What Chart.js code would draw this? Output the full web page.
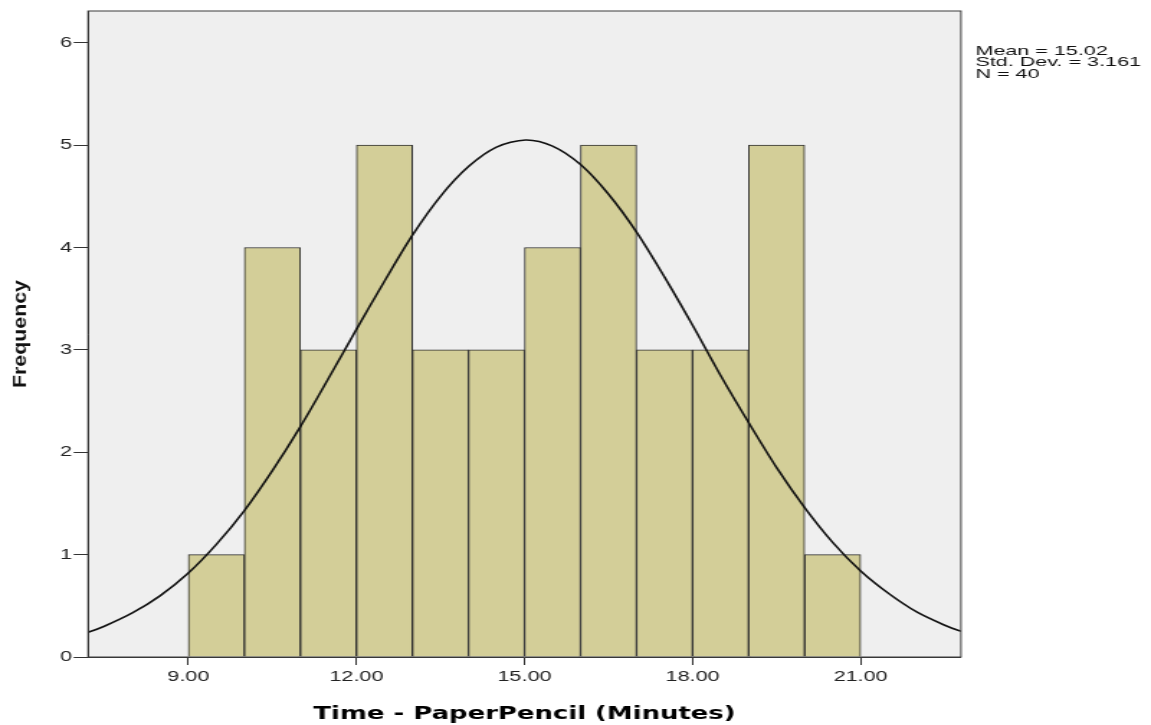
<!DOCTYPE html>
<html>
<head>
<meta charset="utf-8">
<title>Time - PaperPencil histogram</title>
<script src="https://cdn.jsdelivr.net/npm/chart.js@4.4.1/dist/chart.umd.min.js"></script>
<style>
  html, body { margin: 0; padding: 0; background: #fff; }
</style>
</head>
<body>
<!-- the canvas is drawn narrower and stretched sideways, like the original picture -->
<canvas id="histChart" width="800" height="725" style="width:1151px;height:725px;display:block"></canvas>
<script>
// 1-minute bins
const binStarts = [9, 10, 11, 12, 13, 14, 15, 16, 17, 18, 19, 20];
const frequencies = [1, 4, 3, 5, 3, 3, 4, 5, 3, 3, 5, 1];

// normal curve
const curveX = [7.21, 7.5, 8, 8.5, 9, 9.5, 10, 10.5, 11, 11.5, 12, 12.5, 13, 13.5, 14, 14.5, 15.02,
                15.5, 16, 16.5, 17, 17.5, 18, 18.5, 19, 19.5, 20, 20.5, 21, 21.5, 22, 22.5, 22.79];
const curveY = [0.24, 0.3, 0.43, 0.6, 0.82, 1.1, 1.43, 1.82, 2.25, 2.72, 3.2, 3.67, 4.12, 4.5, 4.79, 4.98, 5.05,
                4.99, 4.81, 4.52, 4.15, 3.71, 3.24, 2.75, 2.29, 1.85, 1.46, 1.12, 0.84, 0.62, 0.44, 0.31, 0.25];

const xTicks = [9, 12, 15, 18, 21];
const yTicks = [0, 1, 2, 3, 4, 5, 6];

const statLines = ["Mean = 15.02", "Std. Dev. = 3.161", "N = 40"];
const xTitle = "Time - PaperPencil (Minutes)";
const yTitle = "Frequency";

const bars = binStarts.map((s, i) => ({ x: s + 0.5, y: frequencies[i] }));
const curve = curveX.map((x, i) => ({ x: x, y: curveY[i] }));

const axisColor = "#333";
const plainFont = '"Liberation Sans", Arial, sans-serif';

const frame = {
  id: "frame",
  beforeDraw(chart) {
    const { ctx, chartArea: a } = chart;
    ctx.save();
    ctx.fillStyle = "#efefef";
    ctx.fillRect(a.left, a.top, a.right - a.left, a.bottom - a.top);
    ctx.restore();
  },
  afterDraw(chart) {
    const { ctx, chartArea: a } = chart;
    ctx.save();
    ctx.strokeStyle = "#3c3c3c";
    ctx.lineWidth = 1;
    ctx.strokeRect(a.left, a.top, a.right - a.left, a.bottom - a.top);

    // stats box, lines set tight like the original
    ctx.fillStyle = "#111";
    ctx.font = "15px " + plainFont;
    ctx.textBaseline = "alphabetic";
    statLines.forEach((t, i) => {
      ctx.save();
      ctx.translate(a.right + 10, 54.5 + i * 11.5);
      ctx.scale(1, 0.86);
      ctx.fillText(t, 0, 0);
      ctx.restore();
    });

    // y title, squeezed to look like the stretched original
    ctx.font = "bold 20px " + plainFont;
    const w = ctx.measureText(yTitle).width;
    ctx.translate(18.1, (a.top + a.bottom) / 2);
    ctx.rotate(-Math.PI / 2);
    ctx.scale(108 / w, 0.63);
    ctx.textAlign = "center";
    ctx.fillText(yTitle, 0, 0);
    ctx.restore();
  }
};

new Chart(document.getElementById("histChart").getContext("2d"), {
  type: "bar",
  data: {
    datasets: [
      {
        type: "line",
        data: curve,
        borderColor: "#111",
        borderWidth: 1.6,
        pointRadius: 0,
        fill: false,
        tension: 0.3,
        order: 0
      },
      {
        type: "bar",
        data: bars,
        backgroundColor: "#d3ce98",
        borderColor: "#2e2e2e",
        borderWidth: 1,
        barPercentage: 1,
        categoryPercentage: 1,
        order: 1
      }
    ]
  },
  options: {
    responsive: false,
    devicePixelRatio: 1,
    animation: false,
    layout: { padding: { left: 0, top: 11, right: 132.1, bottom: 0 } },
    plugins: {
      legend: { display: false },
      tooltip: { enabled: false }
    },
    scales: {
      x: {
        type: "linear",
        offset: false,
        min: 7.21,
        max: 22.79,
        afterBuildTicks: s => { s.ticks = xTicks.map(v => ({ value: v })); },
        afterFit: s => { s.height = 68; },
        grid: { offset: false, drawOnChartArea: false, drawTicks: true, tickLength: 8, color: axisColor },
        border: { color: axisColor, width: 1 },
        ticks: {
          padding: 3,
          color: "#222",
          font: { family: plainFont, size: 15 },
          callback: v => Number(v).toFixed(2)
        },
        title: {
          display: true,
          text: xTitle,
          color: "#000",
          font: { family: '"DejaVu Sans", Verdana, sans-serif', size: 18, weight: "bold" },
          padding: { top: 0, bottom: 0 }
        }
      },
      y: {
        min: 0,
        max: 6.31,
        afterBuildTicks: s => { s.ticks = yTicks.map(v => ({ value: v })); },
        afterFit: s => { s.width = 61.2; },
        grid: { drawOnChartArea: false, drawTicks: true, tickLength: 10, color: axisColor },
        border: { color: axisColor, width: 1 },
        ticks: {
          padding: 1,
          color: "#222",
          font: { family: plainFont, size: 15 }
        }
      }
    }
  },
  plugins: [frame]
});
</script>
</body>
</html>
